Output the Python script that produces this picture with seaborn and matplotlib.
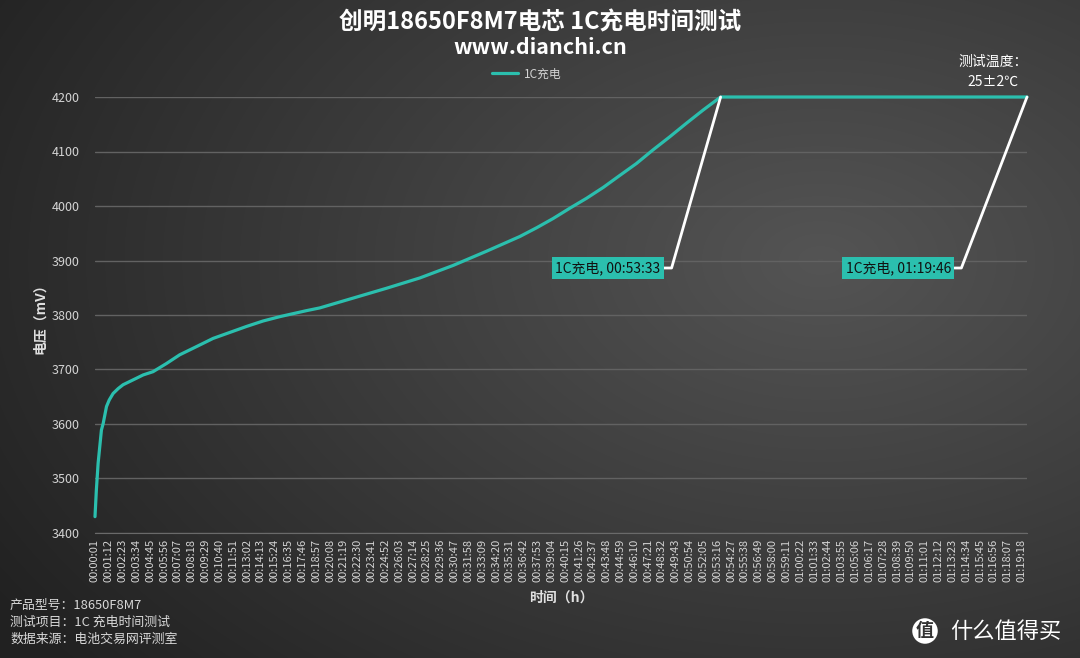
import numpy as np
import pandas as pd
import matplotlib
matplotlib.use("Agg")
import matplotlib.pyplot as plt
import seaborn as sns


# charge curve (seconds, mV)
time_s = [1, 8, 17, 22, 34, 43, 60, 74, 94, 120, 145, 214, 248, 299, 368, 436,
          522, 607, 693, 779, 864, 950, 1087, 1155, 1326, 1497, 1669, 1840, 2011,
          2182, 2268, 2353, 2439, 2524, 2610, 2695, 2781, 2866, 2952, 3038, 3123,
          3213, 4786]
voltage = [3430, 3479, 3528, 3546, 3589, 3601, 3632, 3644, 3656, 3665, 3672, 3684,
           3690, 3696, 3711, 3727, 3742, 3757, 3768, 3779, 3789, 3797, 3808, 3813,
           3831, 3849, 3868, 3891, 3917, 3944, 3960, 3977, 3996, 4014, 4034, 4056,
           4078, 4103, 4127, 4152, 4176, 4200, 4200]

series_name = "1C充电"
y_ticks = [3400, 3500, 3600, 3700, 3800, 3900, 4000, 4100, 4200]
tick_start, tick_step, tick_count = 1, 71, 68
end_points = [3213, 4786]
end_labels = ["1C充电, 00:53:33", "1C充电, 01:19:46"]
notes = ["产品型号：18650F8M7", "测试项目：1C 充电时间测试", "数据来源：电池交易网评测室"]

teal = "#2bbfae"

df = pd.DataFrame({"t": time_s, "v": voltage, "series": series_name})

sns.set_style("dark")
plt.rcParams['font.family'] = ['Noto Sans CJK SC', 'DejaVu Sans']

fig = plt.figure(figsize=(10.8, 6.58), dpi=100)

# gradient background
bg = fig.add_axes([0, 0, 1, 1], zorder=-10)
yy, xx = np.mgrid[0:658, 0:1080]
dist = np.sqrt(((xx - 820) / 1080) ** 2 + ((yy - 260) / 700) ** 2)
shade = np.clip(0.33 - 0.22 * dist, 0.13, 0.35)
bg.imshow(np.dstack([shade] * 3), aspect='auto', extent=[0, 1, 0, 1])
bg.axis('off')

ax = fig.add_axes([95 / 1080, 1 - 533 / 658, 932 / 1080, 436 / 658])
ax.set_facecolor('none')

sns.lineplot(data=df, x="t", y="v", hue="series", palette=[teal],
             linewidth=2.3, ax=ax, clip_on=False, legend=True,
             solid_joinstyle='round')

ax.set_xlim(1, 4786)
ax.set_ylim(3400, 4200)
ax.set_yticks(y_ticks)
ax.set_yticklabels([str(v) for v in y_ticks], color="#d4d4d4", fontsize=9)

tick_pos = [tick_start + k * tick_step for k in range(tick_count)]
tick_lab = [f"{p // 3600:02d}:{p % 3600 // 60:02d}:{p % 60:02d}" for p in tick_pos]
ax.set_xticks(tick_pos)
ax.set_xticklabels(tick_lab, rotation=90, color="#d4d4d4", fontsize=8)

ax.grid(axis='y', color="#626262", linewidth=1)
ax.grid(axis='x', visible=False)
for s in ['top', 'right', 'left']:
    ax.spines[s].set_visible(False)
ax.spines['bottom'].set_color("#6a6a6a")
ax.tick_params(axis='y', length=3, color="#6a6a6a", pad=8)
ax.tick_params(axis='x', length=0, pad=4)

ax.set_xlabel("时间（h）", color="#e0e0e0", fontsize=10, fontweight='bold', labelpad=6)
ax.set_ylabel("电压（mV）", color="#e0e0e0", fontsize=10, fontweight='bold', labelpad=3)

leg = ax.legend(loc='center', bbox_to_anchor=(527 / 1080, 1 - 74 / 658),
                bbox_transform=fig.transFigure, frameon=False, fontsize=8.5,
                handlelength=2.2, handletextpad=0.5)
for t in leg.get_texts():
    t.set_color("#d4d4d4")

# end-of-charge callouts
angles = [74, 69]
offsets = [(-60, -171), (-76, -171)]
for xp, lab, ang, off in zip(end_points, end_labels, angles, offsets):
    ax.annotate(lab, xy=(xp, 4200), xytext=off, textcoords='offset pixels',
                ha='right', va='center', fontsize=10, color="#111111",
                bbox=dict(boxstyle='square,pad=0.25', fc=teal, ec='none'),
                arrowprops=dict(arrowstyle='-', color='white', lw=2,
                                shrinkA=0, shrinkB=0, relpos=(1, 0.5),
                                connectionstyle=f"angle,angleA=0,angleB={ang},rad=0"),
                annotation_clip=False)

fig.text(0.5, 1 - 22 / 658, "创明18650F8M7电芯 1C充电时间测试", ha='center', va='center',
         color='white', fontsize=17, fontweight='bold')
fig.text(0.5, 1 - 47 / 658, "www.dianchi.cn", ha='center', va='center',
         color='white', fontsize=15.5, fontweight='bold')
fig.text(993 / 1080, 1 - 62 / 658, "测试温度：", ha='center', va='center',
         color='white', fontsize=10)
fig.text(993 / 1080, 1 - 82 / 658, "25±2℃", ha='center', va='center',
         color='white', fontsize=10)

for i, line in enumerate(notes):
    fig.text(10 / 1080, 1 - (605 + i * 17) / 658, line, ha='left', va='center',
             color="#d8d8d8", fontsize=9.3)

# watermark
fig.text(925 / 1080, 1 - 631 / 658, "值", ha='center', va='center', color="#333333",
         fontsize=13, fontweight='bold',
         bbox=dict(boxstyle='circle,pad=0.18', fc='white', ec='none'))
fig.text(950 / 1080, 1 - 631 / 658, "什么值得买", ha='left', va='center',
         color='white', fontsize=16)

fig.savefig("out.png", dpi=100)
